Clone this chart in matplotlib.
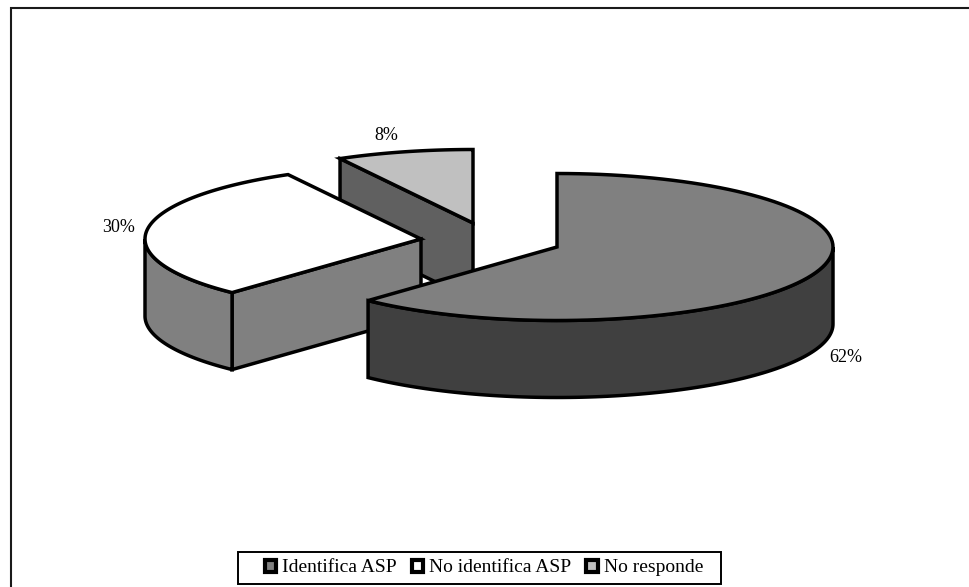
import numpy as np
import matplotlib
matplotlib.use("Agg")
import matplotlib.pyplot as plt
from matplotlib.patches import Polygon, Patch, Rectangle

categories = ["Identifica ASP", "No identifica ASP", "No responde"]
values = [62, 30, 8]
labels = ["62%", "30%", "8%"]

top_colors = ["#808080", "#ffffff", "#c0c0c0"]
side_colors = ["#404040", "#808080", "#606060"]
centers = [(557, 247), (421, 239), (473, 223)]
label_pos = [(846, 357), (119, 228), (386, 135)]
RX, RY, DEPTH, LW = 276, 73.5, 77, 2.5
EDGE = "#000000"

plt.rcParams["font.family"] = ["Liberation Serif", "DejaVu Serif"]
fig = plt.figure(figsize=(9.69, 5.87), dpi=100)
ax = fig.add_axes([0, 0, 1, 1])
ax.set_xlim(0, 969)
ax.set_ylim(587, 0)
ax.axis("off")
# the frame shows only on its top and left sides
ax.plot([969, 11, 11], [8, 8, 587], color="#1a1a1a", lw=1.5, solid_joinstyle="miter", zorder=0)

fracs = np.array(values) / sum(values) * 2 * np.pi
ends = np.cumsum(fracs)
starts = ends - fracs


def pt(c, th, dz=0):
    return np.array([c[0] + RX * np.sin(th), c[1] - RY * np.cos(th) + dz])


def arc(c, a, b, dz=0):
    t = np.linspace(a, b, 100)
    return np.column_stack([c[0] + RX * np.sin(t), c[1] - RY * np.cos(t) + dz])


def poly(xy, fc, z):
    ax.add_patch(Polygon(xy, closed=True, fc=fc, ec=EDGE, lw=LW, joinstyle="miter", zorder=z))


def draw_slice(i, z):
    c, a, b = centers[i], starts[i], ends[i]
    apex = np.array(c, float)
    down = np.array([0, DEPTH])
    # visible cut face: slices 2 and 3 show their start edge
    if i in (1, 2):
        p = pt(c, a)
        poly([apex, p, p + down, apex + down], side_colors[i], z)
    # outer rim, only the front half of the ellipse
    lo, hi = max(a, np.pi / 2), min(b, 3 * np.pi / 2)
    if lo < hi:
        poly(np.vstack([arc(c, lo, hi), arc(c, hi, lo, DEPTH)]), side_colors[i], z)
    poly(np.vstack([[apex], arc(c, a, b)]), top_colors[i], z + 0.5)


for z, i in enumerate([2, 1, 0]):
    draw_slice(i, z + 1)

for lab, (x, y) in zip(labels, label_pos):
    ax.text(x, y, lab, ha="center", va="center", fontsize=13, color="black")

ax.add_patch(Rectangle((238, 552), 483, 32, fc="white", ec="black", lw=1.4, zorder=5))
handles = [Patch(fc=c, ec="black", lw=3) for c in top_colors]
leg = ax.legend(handles, categories, ncol=3, loc="center",
                bbox_to_anchor=(484, 568), bbox_transform=ax.transData,
                fontsize=14, frameon=False, handlelength=0.58, handleheight=0.58,
                handletextpad=0.3, columnspacing=0.78, borderpad=0, borderaxespad=0)
leg.set_zorder(6)

fig.savefig("out.png", dpi=100)
